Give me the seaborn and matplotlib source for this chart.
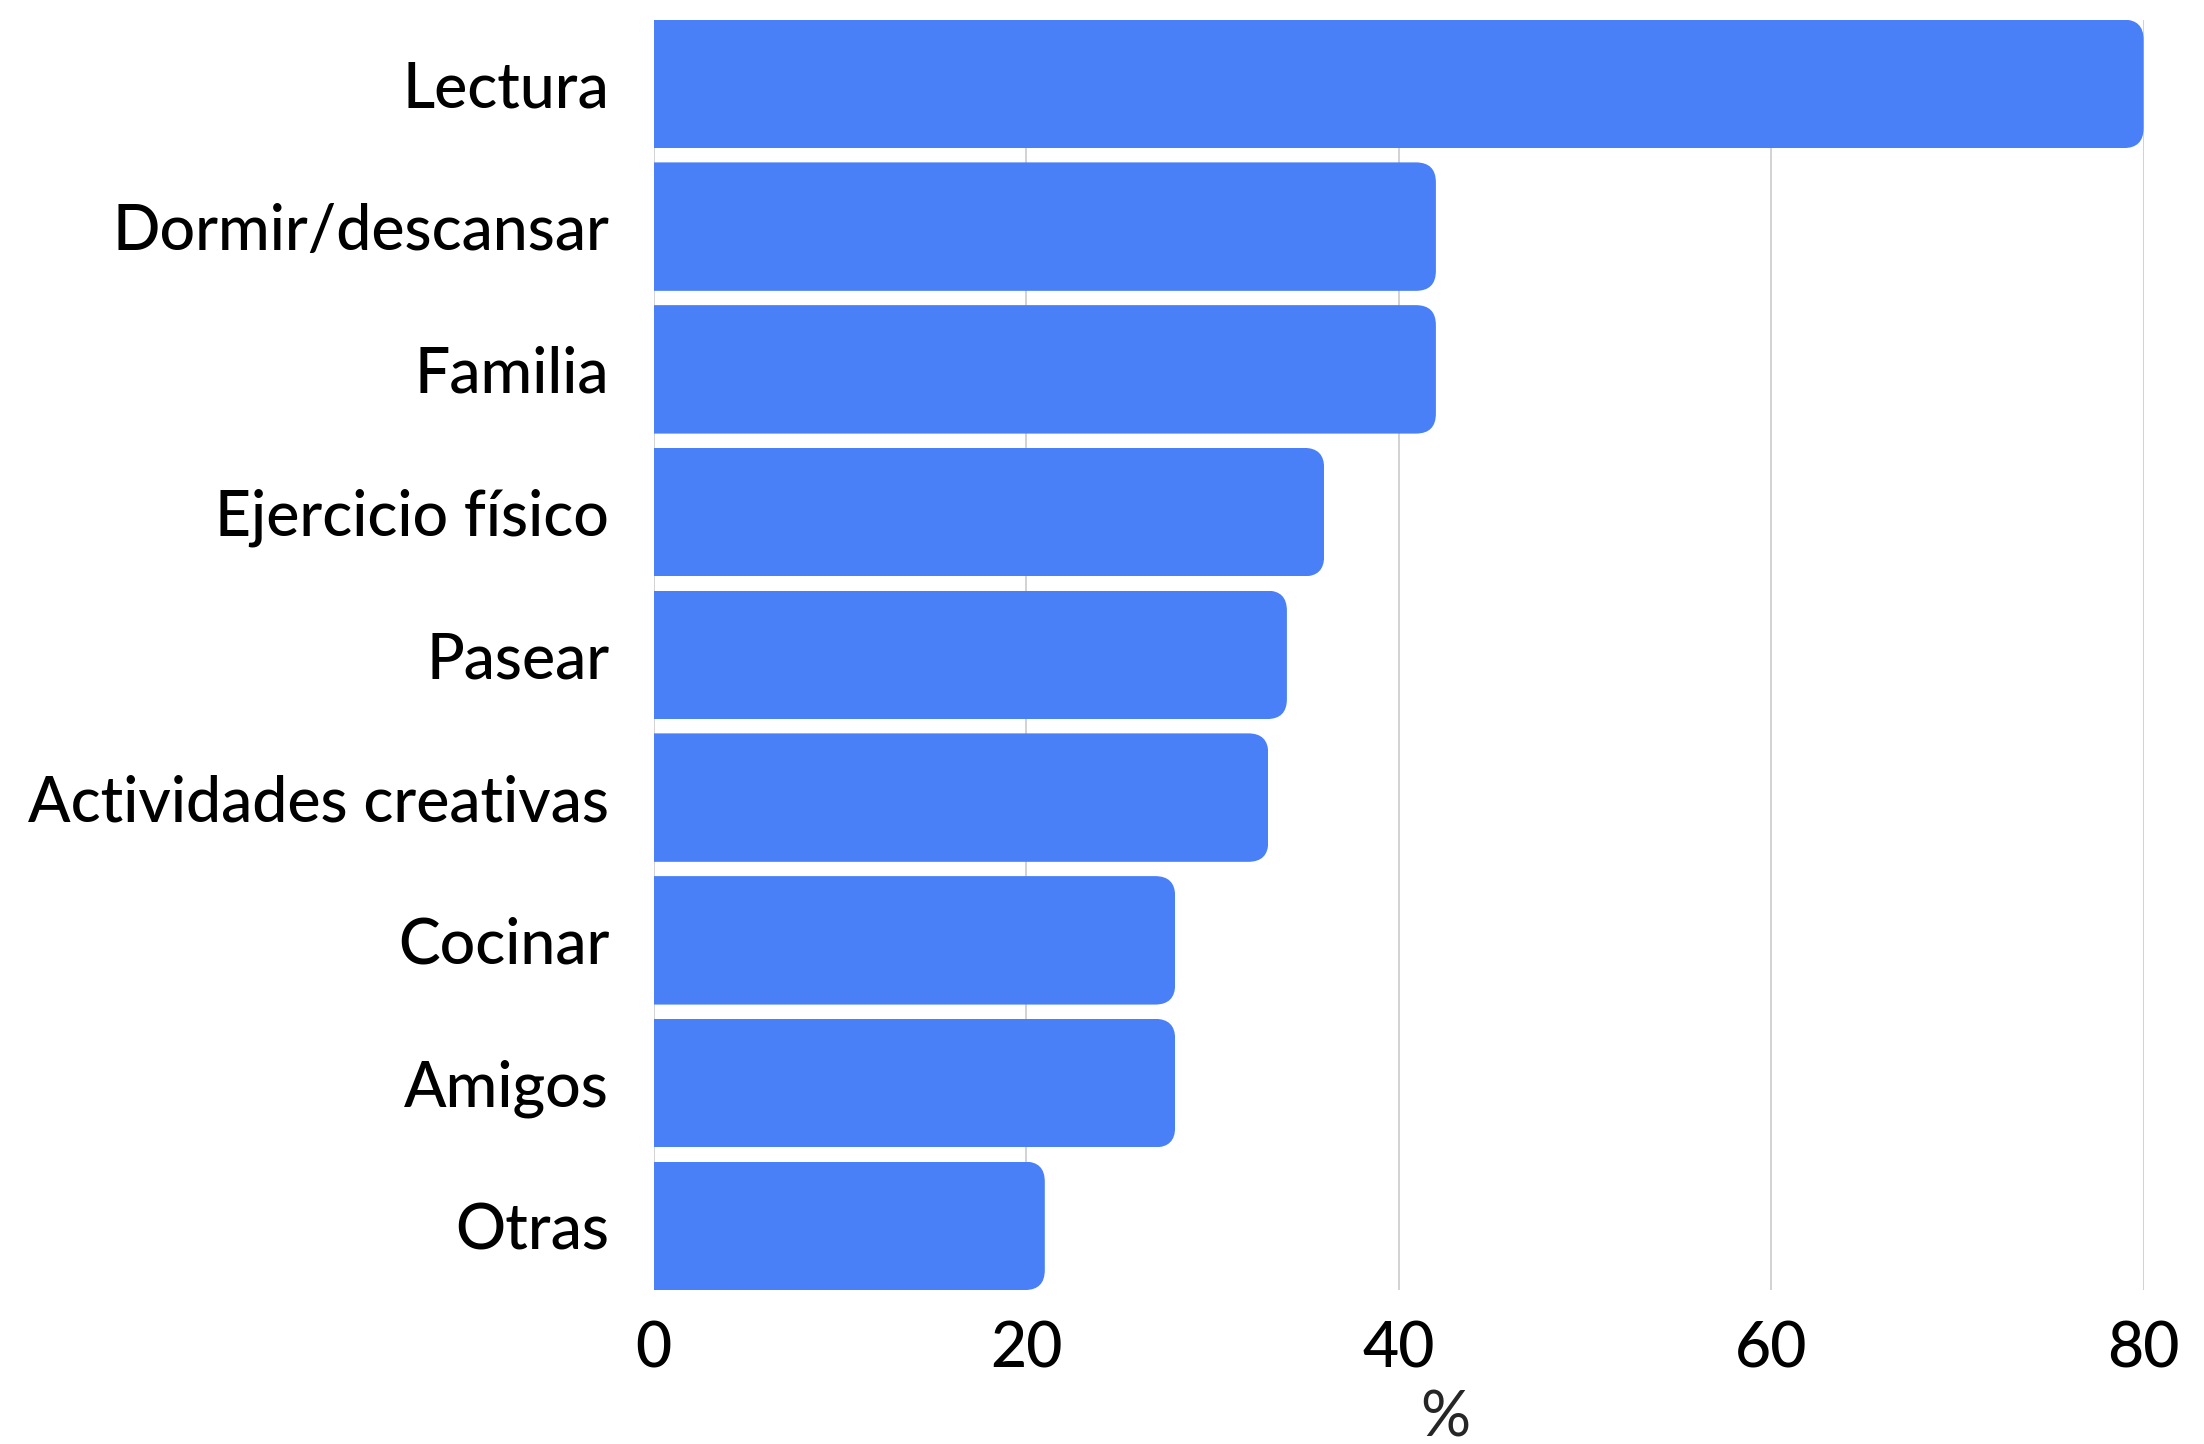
import matplotlib
matplotlib.use("Agg")
import matplotlib.pyplot as plt
from matplotlib.patches import FancyBboxPatch
from matplotlib.transforms import IdentityTransform
import seaborn as sns
import pandas as pd

categories = ["Lectura", "Dormir/descansar", "Familia", "Ejercicio físico", "Pasear",
              "Actividades creativas", "Cocinar", "Amigos", "Otras"]
values = [80, 42, 42, 36, 34, 33, 28, 28, 21]
x_ticks = [0, 20, 40, 60, 80]
x_label = "%"

BAR_COLOR = "#4a80f7"
GRID_COLOR = "#cfcfcf"
FS = 45

sns.set_theme(style="white")
plt.rcParams["font.family"] = ["Lato", "DejaVu Sans"]
plt.rcParams["font.weight"] = "medium"

df = pd.DataFrame({"actividad": categories, "porcentaje": values})

DPI = 100
fig = plt.figure(figsize=(22.04, 14.44), dpi=DPI)
ax = fig.add_axes([0.2966, 0.1066, 0.9726 - 0.2966, 0.9864 - 0.1066])

sns.barplot(data=df, y="actividad", x="porcentaje", order=categories,
            color=BAR_COLOR, saturation=1, width=0.9, ax=ax, zorder=2)

ax.set_xlim(0, 80)
ax.set_ylim(len(categories) - 0.55, -0.45)
ax.set_xticks(x_ticks)
ax.set_xticklabels([str(t) for t in x_ticks])
ax.xaxis.grid(True, color=GRID_COLOR, linewidth=1.3, zorder=0)
ax.yaxis.grid(False)
ax.set_axisbelow(True)
for s in ax.spines.values():
    s.set_visible(False)
ax.tick_params(axis="both", length=0, labelsize=FS, colors="black")
ax.tick_params(axis="x", pad=22)
ax.tick_params(axis="y", pad=32)
ax.set_ylabel("")
ax.set_xlabel(x_label, fontsize=FS)
ax.xaxis.set_label_coords(0.531, -0.078)

# round the right-hand corners of each bar
fig.canvas.draw()
radius = 20
for bar in ax.patches:
    bb = bar.get_window_extent()
    clip = FancyBboxPatch((bb.x0 - 3 * radius, bb.y0), bb.width + 3 * radius, bb.height,
                          boxstyle=f"round,pad=0,rounding_size={radius}",
                          transform=IdentityTransform(), facecolor="none", edgecolor="none")
    bar.set_clip_path(clip)
    bar.set_edgecolor("none")

fig.savefig("out.png", dpi=DPI, facecolor="white")
